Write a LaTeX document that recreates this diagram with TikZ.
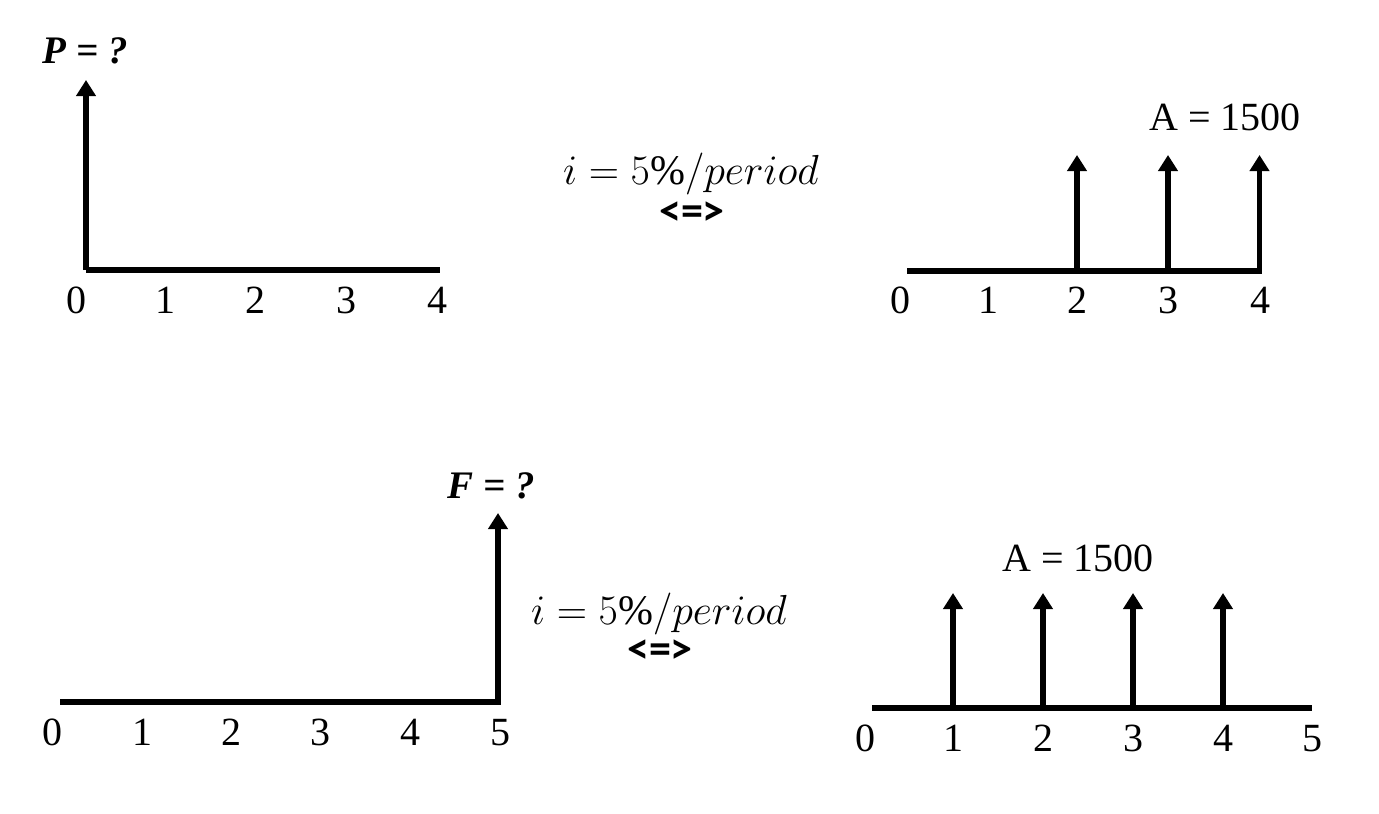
\documentclass[tikz,border=0pt]{standalone}
\usepackage{fix-cm}
\usepackage{fontspec}
\setmainfont{Liberation Serif}
\newfontfamily\symsans{Carlito}
\usetikzlibrary{arrows.meta}

\newlength{\du}
\setlength{\du}{1pt}

\tikzset{
  timeline/.style={line width=5.5\du},
  cashflow/.style={line width=5.5\du,-{Triangle[width=19pt,length=16pt]}},
  period/.style={inner sep=0pt,text height=27\du,text depth=0pt,font=\fontsize{40}{42}\selectfont},
  unknown/.style={inner sep=0pt,text height=26\du,text depth=0pt,font=\fontsize{39}{41}\selectfont\bfseries\itshape},
  rate/.style={inner sep=0pt,font=\fontsize{42}{44}\selectfont},
  equiv/.style={inner sep=0pt,font=\fontsize{44}{46}\selectfont\symsans\bfseries}
}

\begin{document}
\begin{tikzpicture}
\pgftransformxscale{1.000000}
\pgftransformyscale{-1.000000}
\useasboundingbox (0\du,0\du) rectangle (1379\du,814\du);
% present worth, upper left
\coordinate (p0) at (86\du,270\du);
\coordinate (pend) at (440\du,270\du);
\coordinate (ptip) at (86\du,80\du);
\draw[timeline] (p0) -- (pend);
\draw[cashflow] (p0) -- (ptip);
\node[unknown] (pval) at (85\du,50\du) {P = ?};
\node[period] (pl0) at (76\du,300\du) {0};
\node[period] (pl1) at (165\du,300\du) {1};
\node[period] (pl2) at (255\du,300\du) {2};
\node[period] (pl3) at (346\du,300\du) {3};
\node[period] (pl4) at (437\du,300\du) {4};
% rate, upper middle
\node[rate] (ratetop) at (691\du,174\du) {$i = 5\%/period$};
\node[equiv] (eqtop) at (692\du,214\du) {<=>};
% annuity, upper right
\coordinate (a0) at (907\du,271\du);
\coordinate (a2) at (1077\du,271\du);
\coordinate (a3) at (1168\du,271\du);
\coordinate (a4) at (1259.5\du,271\du);
\coordinate (aend) at (1262\du,271\du);
\coordinate (a2tip) at (1077\du,155\du);
\coordinate (a3tip) at (1168\du,155\du);
\coordinate (a4tip) at (1259.5\du,155\du);
\draw[timeline] (a0) -- (aend);
\draw[cashflow] (a2) -- (a2tip);
\draw[cashflow] (a3) -- (a3tip);
\draw[cashflow] (a4) -- (a4tip);
\node[period] (aval) at (1225\du,117\du) {A = 1500};
\node[period] (al0) at (900\du,300\du) {0};
\node[period] (al1) at (988\du,300\du) {1};
\node[period] (al2) at (1077\du,300\du) {2};
\node[period] (al3) at (1168\du,300\du) {3};
\node[period] (al4) at (1260\du,300\du) {4};
% future worth, lower left
\coordinate (f0) at (60\du,702\du);
\coordinate (f5) at (498\du,702\du);
\coordinate (fend) at (500.5\du,702\du);
\coordinate (ftip) at (498\du,513\du);
\draw[timeline] (f0) -- (fend);
\draw[cashflow] (f5) -- (ftip);
\node[unknown] (fval) at (491\du,485\du) {F = ?};
\node[period] (fl0) at (52\du,732\du) {0};
\node[period] (fl1) at (142\du,732\du) {1};
\node[period] (fl2) at (231\du,732\du) {2};
\node[period] (fl3) at (320\du,732\du) {3};
\node[period] (fl4) at (410\du,732\du) {4};
\node[period] (fl5) at (500\du,732\du) {5};
% rate, lower middle
\node[rate] (ratebot) at (659\du,614\du) {$i = 5\%/period$};
\node[equiv] (eqbot) at (660\du,652\du) {<=>};
% annuity, lower right
\coordinate (b0) at (872\du,708\du);
\coordinate (b1) at (953\du,708\du);
\coordinate (b2) at (1043\du,708\du);
\coordinate (b3) at (1133\du,708\du);
\coordinate (b4) at (1223\du,708\du);
\coordinate (bend) at (1312\du,708\du);
\coordinate (b1tip) at (953\du,593\du);
\coordinate (b2tip) at (1043\du,593\du);
\coordinate (b3tip) at (1133\du,593\du);
\coordinate (b4tip) at (1223\du,593\du);
\draw[timeline] (b0) -- (bend);
\draw[cashflow] (b1) -- (b1tip);
\draw[cashflow] (b2) -- (b2tip);
\draw[cashflow] (b3) -- (b3tip);
\draw[cashflow] (b4) -- (b4tip);
\node[period] (bval) at (1078\du,558\du) {A = 1500};
\node[period] (bl0) at (865\du,738\du) {0};
\node[period] (bl1) at (953\du,738\du) {1};
\node[period] (bl2) at (1043\du,738\du) {2};
\node[period] (bl3) at (1133\du,738\du) {3};
\node[period] (bl4) at (1223\du,738\du) {4};
\node[period] (bl5) at (1312\du,738\du) {5};
\end{tikzpicture}
\end{document}
